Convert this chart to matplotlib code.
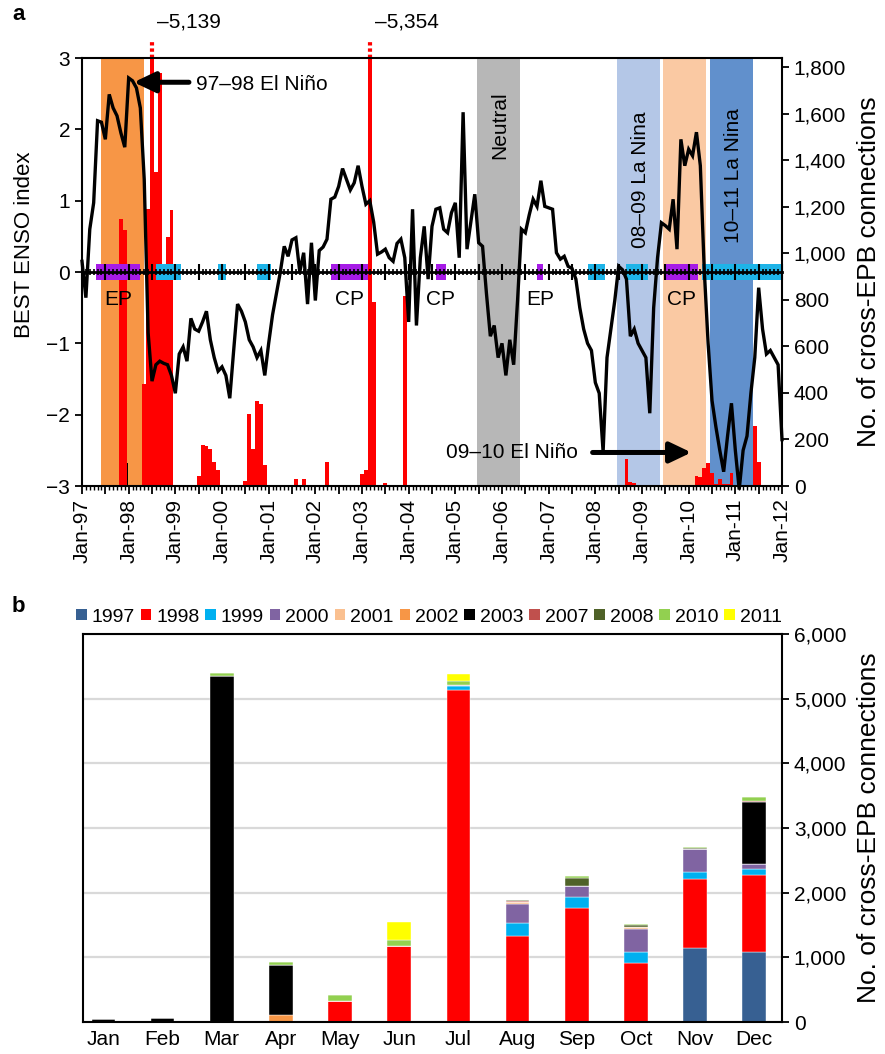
import numpy as np
import matplotlib
matplotlib.use('Agg')
import matplotlib.pyplot as plt
import matplotlib.transforms as mtransforms
from matplotlib.patches import Patch, ArrowStyle
from matplotlib.ticker import FuncFormatter, MultipleLocator

plt.rcParams['font.family'] = ['Liberation Sans', 'DejaVu Sans']
plt.rcParams['font.size'] = 15

# ---------------- panel a data ----------------
# BEST ENSO index, one value per month from Jan-97 to Jan-12
enso_index = [
    0.15, -0.36, 0.6, 0.97, 2.12, 2.1, 1.86, 2.49, 2.3, 2.19, 1.95, 1.75,          # 1997
    2.72, 2.68, 2.58, 2.3, 1.3, -0.85, -1.53, -1.3, -1.25, -1.28, -1.3, -1.45,     # 1998
    -1.7, -1.15, -1.05, -1.25, -0.65, -0.8, -0.83, -0.7, -0.55, -0.95, -1.2, -1.39,  # 1999
    -1.33, -1.45, -1.77, -1.1, -0.45, -0.55, -0.7, -0.95, -1.05, -1.2, -1.1, -1.45,  # 2000
    -1.0, -0.6, -0.3, 0.0, 0.36, 0.22, 0.45, 0.48, 0.0, 0.27, -0.45, 0.41,         # 2001
    -0.4, 0.3, 0.35, 0.46, 1.02, 1.05, 1.2, 1.45, 1.3, 1.15, 1.25, 1.49,           # 2002
    1.2, 0.95, 1.0, 0.7, 0.25, 0.28, 0.32, 0.2, 0.15, 0.4, 0.46, 0.2,              # 2003
    -0.7, 0.88, -0.75, 0.2, 0.64, -0.1, 0.64, 0.88, 0.9, 0.6, 0.55, 0.83,          # 2004
    0.97, 0.2, 2.24, 0.32, 0.7, 1.09, 0.41, 0.36, -0.3, -0.9, -0.75, -1.2,         # 2005
    -1.0, -1.45, -0.95, -1.3, -0.4, 0.6, 0.55, 0.8, 1.02, 0.92, 1.28, 0.92,        # 2006
    0.9, 0.88, 0.27, 0.18, 0.22, 0.08, 0.05, -0.1, -0.5, -0.8, -1.0, -1.1,         # 2007
    -1.55, -1.7, -2.52, -1.2, -0.8, -0.4, 0.08, 0.03, -0.1, -0.9, -0.8, -1.0,      # 2008
    -1.1, -1.2, -1.98, -0.5, 0.2, 0.69, 0.65, 0.6, 1.02, 0.32, 1.86, 1.49,         # 2009
    1.72, 1.63, 1.96, 1.49, 0.04, -1.0, -1.8, -2.17, -2.5, -2.8, -2.3, -1.84,      # 2010
    -2.5, -3.05, -2.5, -2.3, -1.7, -1.2, -0.22, -0.8, -1.15, -1.1, -1.2, -1.3,     # 2011
    -2.35,                                                                          # Jan 2012
]

# cross-EPB connections per month (all years together)
epb_month = ['1997-11', '1997-12',
             '1998-05', '1998-06', '1998-07', '1998-08', '1998-09', '1998-10', '1998-11', '1998-12',
             '1999-07', '1999-08', '1999-09', '1999-10', '1999-11', '1999-12',
             '2000-07', '2000-08', '2000-09', '2000-10', '2000-11', '2000-12',
             '2001-08', '2001-10', '2002-04',
             '2003-01', '2003-02', '2003-03', '2003-04', '2003-07', '2003-12',
             '2007-08', '2008-08', '2008-09', '2008-10', '2008-11', '2008-12',
             '2010-03', '2010-04', '2010-05', '2010-06', '2010-07', '2010-08',
             '2010-09', '2010-10', '2010-11', '2010-12', '2011-06', '2011-07']
epb_count = [1150, 1100,
             440, 1190, 5139, 1350, 1775, 915, 1072, 1187,
             45, 176, 172, 159, 105, 70,
             21, 309, 159, 366, 353, 90,
             30, 30, 103,
             50, 68, 5354, 790, 13, 815,
             5, 5, 116, 19, 12, 6,
             43, 40, 79, 100, 54, 10,
             30, 10, 10, 54, 258, 105]
black_month = ['1998-01']
black_count = [100]

# event periods (months since Jan-97)
band_start = [5.0, 101.5, 137.5, 149.5, 161.5]
band_end = [16.0, 112.5, 148.5, 160.5, 172.5]
band_color = ['#F79646', '#B7B7B7', '#B4C7E7', '#FAC9A3', '#6190CC']

# ENSO phase strips on the zero line
phase_type = ['EP', 'LN', 'LN', 'LN', 'CP', 'CP', 'EP', 'LN', 'LN', 'CP', 'LN']
phase_start = [3.5, 19.0, 35.0, 45.0, 64.0, 91.0, 117.0, 130.0, 140.0, 150.0, 159.5]
phase_end = [15.0, 25.5, 37.0, 48.5, 73.5, 93.5, 118.5, 134.5, 145.5, 158.5, 180.0]

year_labels = ['Jan-%02d' % (y % 100) for y in range(1997, 2013)]

# ---------------- panel b data ----------------
months_b = ['Jan', 'Feb', 'Mar', 'Apr', 'May', 'Jun', 'Jul', 'Aug', 'Sep', 'Oct', 'Nov', 'Dec']
years_b = ['1997', '1998', '1999', '2000', '2001', '2002', '2003', '2007', '2008', '2010', '2011']
y1997 = [0, 0, 0, 0, 0, 0, 0, 0, 0, 0, 1137, 1090]
y1998 = [0, 0, 0, 0, 326, 1178, 5139, 1333, 1762, 915, 1075, 1189]
y1999 = [0, 0, 0, 0, 0, 0, 55, 192, 176, 175, 108, 83]
y2000 = [0, 0, 0, 0, 0, 0, 15, 304, 171, 352, 357, 88]
y2001 = [0, 0, 0, 0, 0, 0, 0, 31, 0, 31, 0, 0]
y2002 = [0, 0, 0, 103, 0, 0, 0, 0, 0, 0, 0, 0]
y2003 = [41, 57, 5354, 781, 0, 0, 0, 0, 0, 0, 0, 950]
y2007 = [0, 0, 0, 0, 0, 0, 0, 6, 0, 0, 0, 10]
y2008 = [0, 0, 0, 0, 0, 0, 0, 20, 118, 20, 12, 6]
y2010 = [0, 0, 45, 41, 87, 93, 57, 8, 37, 20, 16, 68]
y2011 = [0, 0, 0, 0, 0, 274, 113, 0, 0, 0, 0, 0]
year_colors = ['#376092', '#FF0000', '#00B0F0', '#8064A2', '#FAC090', '#F79646',
               '#000000', '#C0504D', '#4F6228', '#92D050', '#FFFF00']


def month_index(s):
    y, m = s.split('-')
    return (int(y) - 1997) * 12 + int(m) - 1


W, H = 885, 1054


def rect(left, top, right, bottom):
    return [left / W, 1 - bottom / H, (right - left) / W, (bottom - top) / H]


fig = plt.figure(figsize=(W / 100, H / 100), dpi=100)

# ---- panel a: bars (bottom layer, right axis) ----
ax_bar = fig.add_axes(rect(82, 58, 782, 486))
ax = fig.add_axes(rect(82, 58, 782, 486), sharex=ax_bar)
ax.patch.set_visible(False)

for s, e, c in zip(band_start, band_end, band_color):
    ax_bar.axvspan(s, e, color=c, lw=0, zorder=0)

bar_top = 1840
bx = [month_index(m) for m in epb_month]
ax_bar.bar(bx, epb_count, width=1.0, color='#FF0000', lw=0, zorder=2)
ax_bar.bar([month_index(m) - 0.3 for m in black_month], black_count, width=0.3,
           color='black', lw=0, zorder=3)
ax_bar.set_ylim(0, bar_top)
ax_bar.set_xlim(0, 180)

trans = mtransforms.blended_transform_factory(ax_bar.transData, ax_bar.transAxes)
for x, v in zip(bx, epb_count):
    if v > bar_top:
        ax_bar.plot([x, x], [1.0, 1.038], transform=trans, color='#FF0000', lw=3,
                    ls=(0, (0.8, 0.7)), clip_on=False, solid_capstyle='butt')
        ax_bar.text(x + 1.4, 1.084, '–{:,}'.format(v), transform=trans,
                    ha='left', va='center', fontsize=15)

ax_bar.yaxis.tick_right()
ax_bar.yaxis.set_label_position('right')
ax_bar.set_yticks(range(0, 1801, 200))
ax_bar.yaxis.set_major_formatter(FuncFormatter(lambda v, p: '{:,}'.format(int(v))))
ax_bar.set_ylabel('No. of cross-EPB connections', fontsize=19, labelpad=8)
ax_bar.set_xticks(range(0, 181, 6))
ax_bar.set_xticklabels([year_labels[i // 12] if i % 12 == 0 else '' for i in range(0, 181, 6)],
                       rotation=90)
ax_bar.xaxis.set_minor_locator(MultipleLocator(1))
ax_bar.tick_params(axis='x', which='major', direction='out', length=6, width=1.3, pad=3)
ax_bar.tick_params(axis='x', which='minor', direction='out', length=3, width=1.0)
ax_bar.tick_params(axis='y', direction='out', length=5, width=1.3)
for sp in ['left', 'top']:
    ax_bar.spines[sp].set_visible(False)
for sp in ['right', 'bottom']:
    ax_bar.spines[sp].set_linewidth(1.5)

# ---- panel a: ENSO line (top layer, left axis) ----
for t, s, e in zip(phase_type, phase_start, phase_end):
    c = '#1EB4E8' if t == 'LN' else '#A61BE6'
    ax.broken_barh([(s, e - s)], (-0.11, 0.22), facecolors=c, lw=0, zorder=1)
    if t != 'LN':
        ax.text((s + e) / 2, -0.39, t, ha='center', va='center', fontsize=15)

ax.plot(np.arange(len(enso_index)), enso_index, color='black', lw=2.4,
        zorder=3, clip_on=False, solid_joinstyle='miter')
ax.set_ylim(-3, 3)
ax.set_yticks(range(-3, 4))
ax.set_ylabel('BEST ENSO index', fontsize=16)
ax.yaxis.set_label_coords(-0.067, 0.563)
ax.spines['right'].set_visible(False)
ax.spines['bottom'].set_position(('data', 0))
ax.spines['bottom'].set_linewidth(2)
ax.spines['left'].set_linewidth(1.5)
ax.spines['top'].set_linewidth(1.5)
ax.tick_params(axis='x', which='major', direction='inout', length=11, width=1.5,
               labelbottom=False)
ax.tick_params(axis='x', which='minor', direction='inout', length=5, width=1.2)
ax.tick_params(axis='y', direction='out', length=5, width=1.3)

ax.text(107.3, 2.06, 'Neutral', rotation=90, ha='center', va='center', fontsize=15)
ax.text(143.7, 1.30, '08–09 La Nina', rotation=90, ha='center', va='center', fontsize=15)
ax.text(167.6, 1.35, '10–11 La Nina', rotation=90, ha='center', va='center', fontsize=15)

head = ArrowStyle('-|>', head_length=0.65, head_width=0.31)
ax.annotate('', xy=(13.3, 2.66), xytext=(27.5, 2.66),
            arrowprops=dict(arrowstyle=head, lw=3.6, color='black', mutation_scale=20,
                            shrinkA=0, shrinkB=0))
ax.text(29.2, 2.63, '97–98 El Niño', ha='left', va='center', fontsize=15)
ax.annotate('', xy=(156.7, -2.53), xytext=(131.3, -2.53),
            arrowprops=dict(arrowstyle=head, lw=3.6, color='black', mutation_scale=20,
                            shrinkA=0, shrinkB=0))
ax.text(127.5, -2.53, '09–10 El Niño', ha='right', va='center', fontsize=15)

fig.text(12 / W, 1 - 14 / H, 'a', fontsize=16, fontweight='bold', va='center')

# ---- panel b: stacked monthly bars ----
ax_b = fig.add_axes(rect(83, 634, 782, 1022))
xb = np.arange(len(months_b))
stack = [y1997, y1998, y1999, y2000, y2001, y2002, y2003, y2007, y2008, y2010, y2011]
bottom = np.zeros(len(months_b))
handles = []
for yr, vals, c in zip(years_b, stack, year_colors):
    ax_b.bar(xb, vals, width=0.4, bottom=bottom, color=c, edgecolor='white', lw=0.3, zorder=2)
    bottom += np.array(vals)
    handles.append(Patch(facecolor=c, edgecolor='none', label=yr))

ax_b.set_xlim(-0.345, 11.47)
ax_b.set_ylim(0, 6000)
ax_b.set_xticks(xb)
ax_b.set_xticklabels(months_b)
ax_b.yaxis.tick_right()
ax_b.yaxis.set_label_position('right')
ax_b.set_yticks(range(0, 6001, 1000))
ax_b.yaxis.set_major_formatter(FuncFormatter(lambda v, p: '{:,}'.format(int(v))))
ax_b.set_ylabel('No. of cross-EPB connections', fontsize=19, labelpad=8)
ax_b.yaxis.grid(True, color='#D9D9D9', lw=1.6)
ax_b.set_axisbelow(True)
ax_b.tick_params(axis='x', length=0, pad=6)
ax_b.tick_params(axis='y', direction='out', length=5, width=1.3)
for sp in ax_b.spines.values():
    sp.set_linewidth(1.5)

fig.legend(handles=handles, ncol=11, loc='center left',
           bbox_to_anchor=(76 / W, 1 - 617 / H), frameon=False, fontsize=14,
           handlelength=0.55, handleheight=0.55, handletextpad=0.25,
           columnspacing=0.30, borderpad=0, borderaxespad=0)

fig.text(12 / W, 1 - 606 / H, 'b', fontsize=16, fontweight='bold', va='center')

fig.savefig('out.png', dpi=100)
